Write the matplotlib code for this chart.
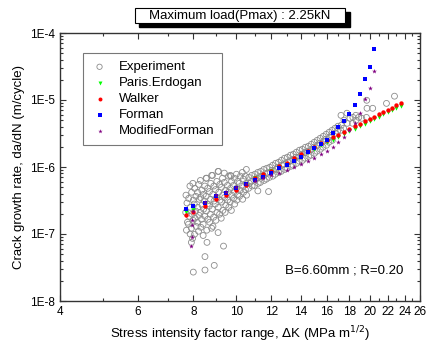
import matplotlib
matplotlib.use("Agg")
import matplotlib.pyplot as plt
from matplotlib.ticker import FixedLocator, NullFormatter, LogLocator, FixedFormatter
import numpy as np

plt.rcParams['font.family'] = ['Liberation Sans', 'DejaVu Sans']

# ---------------- data ----------------
model_K = [7.7, 8.0, 8.5, 9.0, 9.5, 10.0, 10.5, 11.0, 11.5, 12.0, 12.5, 13.0, 13.5, 14.0,
           14.5, 15.0, 15.5, 16.0, 16.5, 17.0, 17.5, 18.0, 18.5, 19.0, 19.5, 20.0, 20.5,
           21.0, 21.5, 22.0, 22.5, 23.0, 23.5]

paris_rate = [2.12e-7, 2.3e-7, 2.8e-7, 3.4e-7, 3.95e-7, 4.6e-7, 5.4e-7, 6.8e-7, 7.6e-7, 8.6e-7,
              1.0e-6, 1.12e-6, 1.29e-6, 1.47e-6, 1.67e-6, 1.88e-6, 2.12e-6, 2.33e-6, 2.57e-6,
              2.83e-6, 3.11e-6, 3.41e-6, 3.73e-6, 4.07e-6, 4.43e-6, 4.81e-6, 5.22e-6, 5.65e-6,
              6.1e-6, 6.58e-6, 7.08e-6, 7.62e-6, 8.2e-6]

walker_rate = [1.92e-7, 2.11e-7, 2.64e-7, 3.3e-7, 3.85e-7, 4.55e-7, 5.4e-7, 6.9e-7, 7.75e-7,
               8.8e-7, 1.03e-6, 1.16e-6, 1.34e-6, 1.54e-6, 1.76e-6, 2.0e-6, 2.27e-6, 2.5e-6,
               2.77e-6, 3.05e-6, 3.36e-6, 3.69e-6, 4.04e-6, 4.41e-6, 4.8e-6, 5.22e-6, 5.66e-6,
               6.13e-6, 6.62e-6, 7.15e-6, 7.7e-6, 8.28e-6, 8.9e-6]

forman_K = [7.7, 8.0, 8.5, 9.0, 9.5, 10.0, 10.5, 11.0, 11.5, 12.0, 12.5, 13.0, 13.5, 14.0,
            14.5, 15.0, 15.5, 16.0, 16.5, 17.0, 17.5, 18.0, 18.5, 19.0, 19.5, 20.0, 20.5]
forman_rate = [2.36e-7, 2.62e-7, 2.9e-7, 3.69e-7, 4.13e-7, 4.81e-7, 5.52e-7, 6.3e-7, 7.1e-7,
               8.05e-7, 9.57e-7, 1.07e-6, 1.24e-6, 1.43e-6, 1.66e-6, 1.9e-6, 2.2e-6, 2.5e-6,
               3.18e-6, 3.99e-6, 4.86e-6, 6.18e-6, 8.41e-6, 1.23e-5, 2.06e-5, 3.14e-5, 5.71e-5]

modforman_K = [7.91, 7.93, 7.95, 7.96, 8.0, 8.5, 9.0, 9.5, 10.0, 10.5, 11.0, 11.5, 12.0, 12.5,
               13.0, 13.5, 14.0, 14.5, 15.0, 15.5, 16.0, 16.5, 17.0, 17.5, 18.0, 18.5, 19.0,
               19.5, 20.0, 20.5]
modforman_rate = [6.6e-8, 9.0e-8, 1.38e-7, 1.64e-7, 2.2e-7, 3.03e-7, 3.82e-7, 4.28e-7, 4.98e-7,
                  5.57e-7, 6.2e-7, 6.8e-7, 7.5e-7, 8.2e-7, 9.0e-7, 1.01e-6, 1.11e-6, 1.22e-6,
                  1.35e-6, 1.55e-6, 1.76e-6, 2.01e-6, 2.34e-6, 2.83e-6, 3.57e-6, 4.49e-6,
                  6.33e-6, 1.02e-5, 1.5e-5, 2.73e-5]

exp_K = [
    7.70, 7.74, 7.69, 7.76, 7.72,
    7.86, 7.81, 7.88, 7.83, 7.80, 7.87,
    7.98, 7.93, 8.00, 7.95, 7.99, 7.92, 7.97,
    8.06, 8.11, 8.04, 8.10, 8.07, 8.12, 8.05,
    8.23, 8.18, 8.25, 8.19, 8.24, 8.17, 8.22,
    8.30, 8.36, 8.31, 8.37, 8.29, 8.35, 8.32,
    8.49, 8.43, 8.48, 8.44, 8.50, 8.42,
    8.57, 8.62, 8.55, 8.61, 8.56, 8.63, 8.58,
    8.76, 8.70, 8.75, 8.69, 8.74, 8.71,
    8.84, 8.90, 8.85, 8.91, 8.83, 8.89, 8.86,
    9.04, 8.98, 9.03, 8.97, 9.05, 9.00,
    9.12, 9.18, 9.13, 9.19, 9.11, 9.17,
    9.31, 9.26, 9.32, 9.27, 9.33, 9.25,
    9.40, 9.46, 9.41, 9.47, 9.44,
    9.61, 9.55, 9.60, 9.56, 9.62,
    9.70, 9.76, 9.71, 9.77, 9.69, 9.75,
    9.91, 9.85, 9.90, 9.86, 9.92,
    10.01, 10.07, 10.02, 10.08, 10.03,
    10.22, 10.16, 10.21, 10.17,
    10.32, 10.38, 10.33, 10.39, 10.34,
    10.54, 10.48, 10.53, 10.49, 10.55,
    8.50, 8.92, 8.0, 8.50, 9.36, 8.59, 7.92, 9.10, 8.42, 8.80, 8.80, 9.10, 9.73, 8.55, 9.40,
    10.68, 10.71, 10.66, 10.84, 10.81, 10.86, 11.02, 11.05, 11.00, 11.19, 11.17, 11.21, 11.19,
    11.36, 11.39, 11.34, 11.54, 11.51, 11.56, 11.72, 11.75, 11.70, 11.83,
    11.90, 11.93, 11.88, 12.08, 12.05, 12.10, 12.27, 12.30, 12.25, 12.46, 12.43, 12.48,
    12.65, 12.68, 12.63, 12.85, 12.82, 12.87, 13.05, 13.08, 13.03, 13.26, 13.23, 13.28,
    13.46, 13.49, 13.44, 13.67, 13.64, 13.69, 13.89, 13.92, 13.87, 14.10, 14.07, 14.12,
    14.32, 14.35, 14.30, 14.55, 14.52, 14.57, 14.77, 14.80, 14.75, 15.00, 14.97, 15.02,
    15.23, 15.26, 15.21, 15.47, 15.44, 15.49, 15.72, 15.75, 15.70, 15.96, 15.93, 15.98,
    16.21, 16.24, 16.19, 16.46, 16.43, 16.48, 16.71, 16.74, 16.97, 16.94,
    17.24, 17.27, 17.22, 17.51, 17.48, 17.78, 17.81, 18.06, 18.34, 18.31,
    18.62, 18.65, 18.91, 19.21, 19.71, 19.74, 19.68, 20.33, 21.84, 22.77,
]
exp_rate = [
    3.8e-7, 2.9e-7, 2.1e-7, 1.5e-7, 1.14e-7,
    5.2e-7, 3.4e-7, 2.5e-7, 1.84e-7, 1.4e-7, 1.0e-7,
    5.7e-7, 4.2e-7, 3.2e-7, 1.97e-7, 1.6e-7, 1.22e-7, 8.6e-8,
    4.8e-7, 3.65e-7, 2.8e-7, 2.2e-7, 1.72e-7, 1.3e-7, 9.9e-8,
    5.5e-7, 4.2e-7, 3.3e-7, 2.5e-7, 1.9e-7, 1.5e-7, 1.1e-7,
    6.3e-7, 4.5e-7, 3.5e-7, 2.7e-7, 2.1e-7, 1.66e-7, 1.26e-7,
    5.2e-7, 3.9e-7, 3.1e-7, 2.35e-7, 1.84e-7, 1.4e-7,
    6.8e-7, 4.8e-7, 3.65e-7, 2.8e-7, 2.2e-7, 1.66e-7, 1.14e-7,
    5.7e-7, 4.3e-7, 3.3e-7, 2.6e-7, 1.97e-7, 1.5e-7,
    7.5e-7, 5.2e-7, 3.9e-7, 3.1e-7, 2.35e-7, 1.78e-7, 1.3e-7,
    6.1e-7, 4.6e-7, 3.5e-7, 2.8e-7, 2.1e-7, 1.6e-7,
    8.6e-7, 5.5e-7, 4.2e-7, 3.2e-7, 2.5e-7, 1.97e-7,
    6.8e-7, 5.0e-7, 3.8e-7, 3.0e-7, 2.25e-7, 1.72e-7,
    5.9e-7, 4.5e-7, 3.5e-7, 2.7e-7, 2.1e-7,
    7.3e-7, 5.3e-7, 4.2e-7, 3.2e-7, 2.5e-7,
    7.5e-7, 6.1e-7, 4.8e-7, 3.8e-7, 3.0e-7, 2.25e-7,
    6.8e-7, 5.3e-7, 4.3e-7, 3.4e-7, 2.8e-7,
    7.8e-7, 6.1e-7, 4.8e-7, 3.9e-7, 3.2e-7,
    7.3e-7, 5.7e-7, 4.5e-7, 3.65e-7,
    8.3e-7, 6.6e-7, 5.2e-7, 4.2e-7, 3.3e-7,
    9.2e-7, 7.3e-7, 5.7e-7, 4.6e-7, 3.8e-7,
    4.6e-8, 3.4e-8, 2.7e-8, 2.9e-8, 6.6e-8, 7.5e-8, 7.5e-8, 1.05e-7, 9.5e-8, 1.22e-7,
    7.5e-7, 8.6e-7, 7.3e-7, 6.8e-7, 8.1e-7,
    7.0e-7, 5.7e-7, 4.8e-7, 7.5e-7, 6.1e-7, 5.2e-7, 7.8e-7, 6.6e-7, 5.3e-7,
    8.3e-7, 6.8e-7, 5.7e-7, 4.4e-7,
    8.6e-7, 7.3e-7, 5.9e-7, 9.2e-7, 7.5e-7, 6.3e-7, 9.56e-7, 8.1e-7, 6.6e-7, 4.3e-7,
    9.9e-7, 8.3e-7, 7.0e-7, 1.06e-6, 8.9e-7, 7.3e-7, 1.135e-6, 9.2e-7, 7.8e-7,
    1.175e-6, 9.9e-7, 8.3e-7,
    1.26e-6, 1.06e-6, 8.6e-7, 1.35e-6, 1.096e-6, 9.2e-7, 1.40e-6, 1.175e-6, 9.56e-7,
    1.50e-6, 1.22e-6, 1.024e-6,
    1.55e-6, 1.30e-6, 1.06e-6, 1.66e-6, 1.40e-6, 1.135e-6, 1.78e-6, 1.44e-6, 1.22e-6,
    1.84e-6, 1.55e-6, 1.26e-6,
    1.97e-6, 1.66e-6, 1.35e-6, 2.04e-6, 1.72e-6, 1.44e-6, 2.18e-6, 1.84e-6, 1.50e-6,
    2.34e-6, 1.97e-6, 1.60e-6,
    2.50e-6, 2.11e-6, 1.72e-6, 2.68e-6, 2.26e-6, 1.84e-6, 2.87e-6, 2.42e-6, 1.97e-6,
    3.08e-6, 2.59e-6, 2.11e-6,
    3.30e-6, 2.78e-6, 2.34e-6, 3.53e-6, 2.97e-6, 2.50e-6, 3.78e-6, 3.19e-6, 4.06e-6, 3.41e-6,
    5.9e-6, 4.2e-6, 3.53e-6, 5.0e-6, 3.78e-6, 6.35e-6, 4.49e-6, 5.33e-6, 5.51e-6, 4.49e-6,
    5.91e-6, 4.98e-6, 5.51e-6, 5.33e-6, 9.9e-6, 7.52e-6, 5.5e-6, 7.52e-6, 8.9e-6, 1.14e-5,
]

x_ticks = [4, 6, 8, 10, 12, 14, 16, 18, 20, 22, 24, 26]
x_minor = [5, 7, 9, 11, 13, 15, 17, 19, 21, 23, 25]
y_ticks = [1e-8, 1e-7, 1e-6, 1e-5, 1e-4]
y_ticklabels = ["1E-8", "1E-7", "1E-6", "1E-5", "1E-4"]

# ---------------- figure ----------------
fig = plt.figure(figsize=(4.27, 3.45), dpi=100)
ax = fig.add_axes([60 / 427, 1 - 301 / 345, 360 / 427, 268 / 345])

ax.scatter(exp_K, exp_rate, s=18, facecolors='none', edgecolors='#8c8c8c',
           linewidths=0.6, label='Experiment', zorder=2)
ax.scatter(model_K, paris_rate, s=10, marker='v', color='#00ff00', linewidths=0,
           label='Paris.Erdogan', zorder=3)
ax.scatter(model_K, walker_rate, s=10, marker='o', color='#ff0000', linewidths=0,
           label='Walker', zorder=4)
ax.scatter(forman_K, forman_rate, s=10, marker='s', color='#0000ff', linewidths=0,
           label='Forman', zorder=5)
ax.scatter(modforman_K, modforman_rate, s=13, marker='*', color='#800080', linewidths=0,
           label='ModifiedForman', zorder=6)

ax.set_xscale('log')
ax.set_yscale('log')
ax.set_xlim(4, 26)
ax.set_ylim(1e-8, 1e-4)

ax.xaxis.set_major_locator(FixedLocator(x_ticks))
ax.xaxis.set_major_formatter(FixedFormatter([str(t) for t in x_ticks]))
ax.xaxis.set_minor_locator(FixedLocator(x_minor))
ax.xaxis.set_minor_formatter(NullFormatter())
ax.yaxis.set_major_locator(FixedLocator(y_ticks))
ax.yaxis.set_major_formatter(FixedFormatter(y_ticklabels))
ax.yaxis.set_minor_locator(LogLocator(base=10, subs=np.arange(2, 10)))
ax.yaxis.set_minor_formatter(NullFormatter())

ax.tick_params(which='both', direction='in', top=True, right=True, labelsize=8.5,
               width=0.8, color='#333333')
ax.tick_params(which='major', length=4)
ax.tick_params(which='minor', length=2)
for s in ax.spines.values():
    s.set_linewidth(1.0)
    s.set_color('#333333')

ax.set_xlabel(r'Stress intensity factor range, $\Delta$K (MPa m$^{1/2}$)', fontsize=9.5,
              labelpad=5)
ax.set_ylabel('Crack growth rate, da/dN (m/cycle)', fontsize=9.5, labelpad=4)

leg = ax.legend(loc='upper left', bbox_to_anchor=(0.064, 0.925), borderaxespad=0,
                fontsize=9.5, frameon=True, fancybox=False, edgecolor='#555555',
                handletextpad=0.8, labelspacing=0.28, borderpad=0.6, handlelength=1.3,
                markerscale=0.9)
leg.get_frame().set_linewidth(0.8)

ax.text(0.955, 0.115, 'B=6.60mm ; R=0.20', transform=ax.transAxes, ha='right',
        va='center', fontsize=9.5)

# title box with shadow
fig.patches.append(plt.Rectangle((139 / 427, 1 - 27 / 345), 211 / 427, 15 / 345,
                                 transform=fig.transFigure, facecolor='black',
                                 edgecolor='black', zorder=1))
fig.patches.append(plt.Rectangle((135 / 427, 1 - 23 / 345), 210 / 427, 15 / 345,
                                 transform=fig.transFigure, facecolor='white',
                                 edgecolor='black', linewidth=0.8, zorder=2))
fig.text(240 / 427, 1 - 15.5 / 345, 'Maximum load(Pmax) : 2.25kN', ha='center',
         va='center', fontsize=9.5, zorder=3)

fig.savefig('out.png', dpi=100)
